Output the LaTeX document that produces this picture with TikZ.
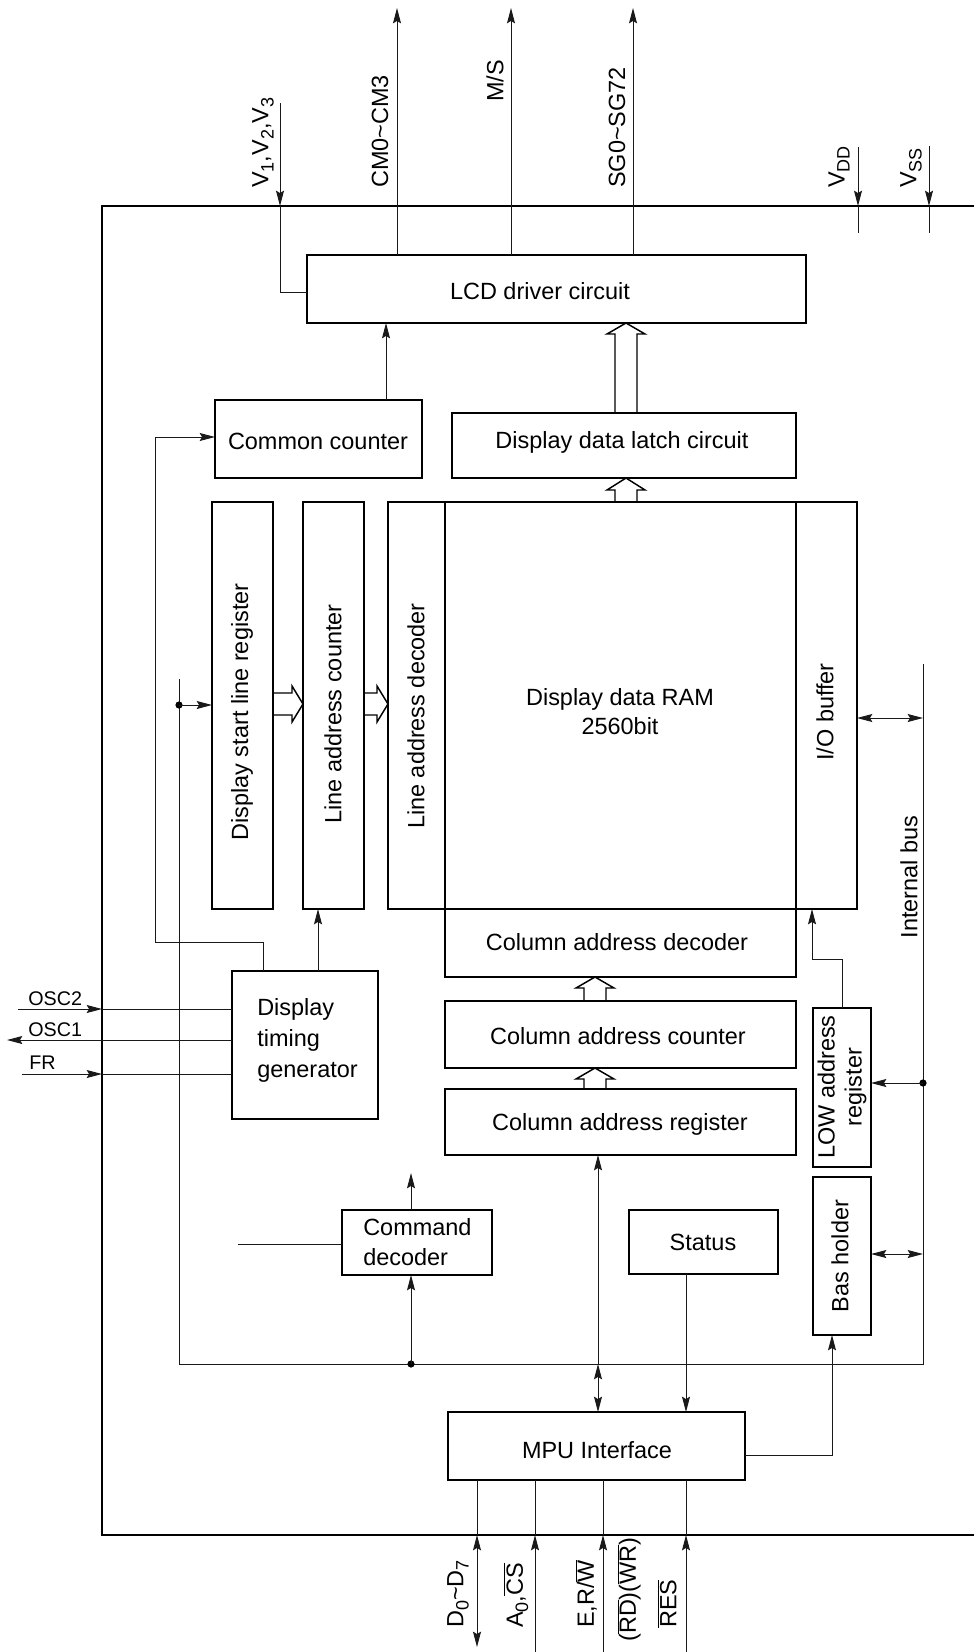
\documentclass[tikz,border=0pt]{standalone}
\usepackage{fontspec}
\setmainfont{Liberation Sans}
\usetikzlibrary{arrows.meta}
\newcommand\ovl[1]{$\overline{\mbox{#1}}$}
\newcommand\sbs[1]{\raisebox{-0.22em}{\fontsize{13.5}{14}\selectfont #1}}
\newcommand\bbox[5]{%
 \pgfmathsetmacro\bcx{(#2+#4)/2}\pgfmathsetmacro\bcy{(#3+#5)/2}%
 \pgfmathsetmacro\bw{(#4-#2)*0.75}\pgfmathsetmacro\bh{(#5-#3)*0.75}%
 \node[box,minimum width=\bw pt,minimum height=\bh pt] (#1) at (\bcx,\bcy) {};}
\newcommand\barrowup[4]{%
 \draw[blk] (#1-11,#4) -- (#1-11,#3) -- (#1-19,#3) -- (#1,#2) -- (#1+19,#3) -- (#1+11,#3) -- (#1+11,#4);}
\newcommand\barrowright[4]{%
 \draw[blk] (#4,#1-11) -- (#3,#1-11) -- (#3,#1-18) -- (#2,#1) -- (#3,#1+18) -- (#3,#1+11) -- (#4,#1+11);}
\begin{document}
\begin{tikzpicture}[x=0.75pt,y=-0.75pt,
  box/.style={draw,line width=1.2pt,inner sep=0pt,outer sep=0pt},
  conn/.style={line width=0.75pt,draw=black!90},
  blk/.style={line width=1.1pt},
  txt/.style={font=\fontsize{17.6}{21}\selectfont,inner sep=0pt},
  small/.style={font=\fontsize{14.8}{18}\selectfont,inner sep=0pt},
  dot/.style={fill=black},
  >={Stealth[length=11.5pt,width=6pt,inset=1.8pt]}]
\useasboundingbox (0,0) rectangle (974,1652);

% chip outline
\draw[line width=1.2pt] (974,206) -- (102,206) -- (102,1535) -- (974,1535);

% boxes
\bbox{lcd}{307}{255}{806}{323}
\bbox{cc}{215}{400}{422}{478}
\bbox{latch}{452}{413}{796}{478}
\bbox{dslr}{212}{502}{273}{909}
\bbox{lac}{303}{502}{364}{909}
\bbox{lad}{388}{502}{445}{909}
\bbox{ram}{445}{502}{796}{909}
\bbox{iobuf}{796}{502}{857}{909}
\bbox{cad}{445}{909}{796}{977}
\bbox{cac}{445}{1001}{796}{1068}
\bbox{car}{445}{1089}{796}{1155}
\bbox{lowreg}{813}{1008}{871}{1167}
\bbox{bash}{813}{1177}{871}{1335}
\bbox{status}{629}{1210}{778}{1274}
\bbox{cmd}{342}{1210}{492}{1275}
\bbox{dtg}{232}{971}{378}{1119}
\bbox{mpu}{448}{1412}{745}{1480}

% box texts
\node[txt] (tlcd) at (540,291) {LCD driver circuit};
\node[txt] (tcc) at (318,441) {Common counter};
\node[txt] (tlatch) at (622,442) {Display data latch circuit};
\node[txt,align=center,font=\fontsize{17.6}{21.8}\selectfont] (tram) at (620,712) {Display data RAM\\2560bit};
\node[txt,rotate=90] (tdslr) at (242,712) {Display start line register};
\node[txt,rotate=90] (tlac) at (333,714) {Line address counter};
\node[txt,rotate=90] (tlad) at (416,716) {Line address decoder};
\node[txt,rotate=90] (tio) at (825,712) {I/O buffer};
\node[txt,rotate=90] (tbus) at (909,877) {Internal bus};
\node[txt] (tcad) at (617,942) {Column address decoder};
\node[txt] (tcac) at (618,1036) {Column address counter};
\node[txt] (tcar) at (620,1124) {Column address register};
\node[txt,rotate=90,align=center,font=\fontsize{17.6}{20.3}\selectfont] (tlow) at (842,1087) {LOW address\\register};
\node[txt,rotate=90] (tbas) at (840,1256) {Bas holder};
\node[txt] (tstat) at (703,1242) {Status};
\node[txt,anchor=west,align=left,font=\fontsize{17.6}{22.5}\selectfont] (tcmd) at (363,1242) {Command\\decoder};
\node[txt,anchor=west,align=left,font=\fontsize{17.6}{23.2}\selectfont] (tdtg) at (257,1040) {Display\\timing\\generator};
\node[txt] (tmpu) at (597,1450) {MPU Interface};

% top pin labels
\node[txt,rotate=90,anchor=west] (lv) at (263,188) {V\sbs{1},V\sbs{2},V\sbs{3}};
\node[txt,rotate=90,anchor=west] (lcm) at (380,188) {CM0\textasciitilde CM3};
\node[txt,rotate=90,anchor=west] (lms) at (495,102) {M/S};
\node[txt,rotate=90,anchor=west] (lsg) at (617,188) {SG0\textasciitilde SG72};
\node[txt,rotate=90,anchor=west] (lvdd) at (839,188) {V\sbs{DD}};
\node[txt,rotate=90,anchor=west] (lvss) at (911,188) {V\sbs{SS}};

% bottom pin labels
\node[txt,rotate=90,anchor=west] (ld) at (458,1628) {D\sbs{0}\textasciitilde D\sbs{7}};
\node[txt,rotate=90,anchor=west] (la) at (516,1628) {A\sbs{0},\ovl{CS}};
\node[txt,rotate=90,anchor=west] (le) at (586,1628) {E,R/\ovl{W}};
\node[txt,rotate=90,anchor=west] (lrd) at (629,1642) {(\ovl{RD})(\ovl{WR})};
\node[txt,rotate=90,anchor=west] (lres) at (667,1628) {\ovl{RES}};

% left pin labels
\node[small,anchor=west] (losc2) at (28,999) {OSC2};
\node[small,anchor=west] (losc1) at (28,1030) {OSC1};
\node[small,anchor=west] (lfr) at (29,1063) {FR};

% pin coordinates
\coordinate (pv) at (280,103);
\coordinate (pcm) at (397,8);
\coordinate (pms) at (511,8);
\coordinate (psg) at (633,8);
\coordinate (pvdd) at (858,147);
\coordinate (pvss) at (929,146);

% top connectors
\draw[conn,->] (pv) -- (280,206);
\draw[conn] (280,206) -- (280,292) -- (lcd.west |- 0,292);
\draw[conn,->] (lcd.north -| pcm) -- (pcm);
\draw[conn,->] (lcd.north -| pms) -- (pms);
\draw[conn,->] (lcd.north -| psg) -- (psg);
\draw[conn,->] (pvdd) -- (858,206);
\draw[conn] (858,206) -- (858,233);
\draw[conn,->] (pvss) -- (929,206);
\draw[conn] (929,206) -- (929,233);

% block arrows
\barrowup{626}{323}{334}{413}
\barrowup{626}{478}{490}{502}
\barrowup{595}{977}{988}{1001}
\barrowup{595}{1068}{1079}{1089}
\barrowright{704}{303}{292}{273}
\barrowright{704}{388}{377}{364}

% common counter to LCD
\draw[conn,->] (cc.north -| 386,0) -- (lcd.south -| 386,0);
% feedback from timing generator to common counter
\draw[conn,->] (dtg.north -| 263,0) -- (263,942) -- (155,942) -- (155,437) -- (cc.west |- 0,437);
% timing generator to line address counter
\draw[conn,->] (dtg.north -| 318,0) -- (lac.south -| 318,0);

% OSC / FR
\draw[conn,->] (18,1009) -- (102,1009);
\draw[conn] (102,1009) -- (dtg.west |- 0,1009);
\draw[conn,->] (dtg.west |- 0,1040) -- (7,1040);
\draw[conn,->] (22,1074) -- (102,1074);
\draw[conn] (102,1074) -- (dtg.west |- 0,1074);

% internal buses
\coordinate (bl) at (179,1364);
\coordinate (br) at (923,1364);
\draw[conn] (179,679) -- (bl) -- (br) -- (923,664);
\fill[dot] (179,705) circle[radius=2.7pt];
\draw[conn,->] (179,705) -- (dslr.west |- 0,705);

% command decoder
\draw[conn] (238,1244) -- (cmd.west |- 0,1244);
\draw[conn,->] (cmd.north -| 411,0) -- (411,1173);
\fill[dot] (411,1364) circle[radius=2.7pt];
\draw[conn,->] (411,1364) -- (cmd.south -| 411,0);

% MPU / column address register
\draw[conn,<->] (mpu.north -| 598,0) -- (598,1364);
\draw[conn,->] (598,1364) -- (car.south -| 598,0);
% status to MPU
\draw[conn,->] (status.south -| 686,0) -- (mpu.north -| 686,0);
% MPU to bas holder
\draw[conn,->] (mpu.east |- 0,1455) -- (832,1455) -- (bash.south -| 832,0);

% LOW address register to I/O buffer
\draw[conn,->] (lowreg.north -| 842,0) -- (842,959) -- (812,959) -- (iobuf.south -| 812,0);
\fill[dot] (923,1083) circle[radius=2.7pt];
\draw[conn,->] (923,1083) -- (lowreg.east |- 0,1083);
\draw[conn,<->] (bash.east |- 0,1254) -- (923,1254);
\draw[conn,<->] (iobuf.east |- 0,718) -- (923,718);

% bottom pins
\draw[conn] (mpu.south -| 477,0) -- (477,1535);
\draw[conn,<->] (477,1535) -- (477,1647);
\draw[conn,->] (535,1652) -- (535,1535);
\draw[conn] (535,1535) -- (mpu.south -| 535,0);
\draw[conn,->] (603,1652) -- (603,1535);
\draw[conn] (603,1535) -- (mpu.south -| 603,0);
\draw[conn,->] (686,1652) -- (686,1535);
\draw[conn] (686,1535) -- (mpu.south -| 686,0);
\end{tikzpicture}
\end{document}
